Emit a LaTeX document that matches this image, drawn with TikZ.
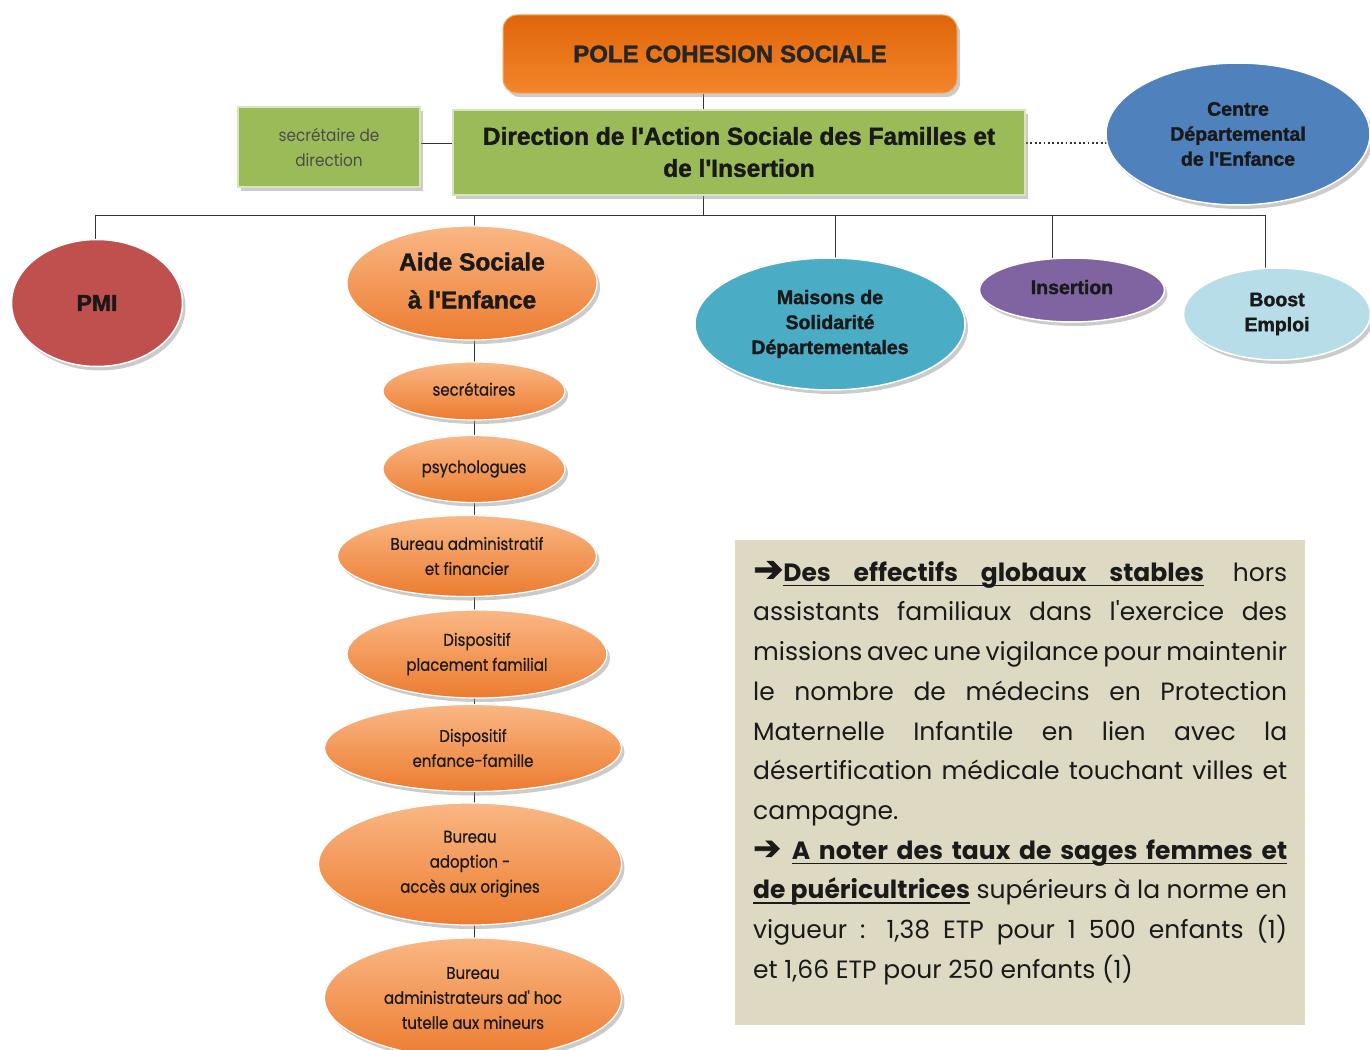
\documentclass[tikz,border=0pt]{standalone}
\usepackage{fontspec}
\setmainfont{Liberation Sans}
\newfontfamily\heavy[UprightFont={* Bold}, FakeBold=1.6]{Liberation Sans}
\newfontfamily\fut{Poppins}
\newfontfamily\futc[FakeStretch=0.88, FakeBold=0.6]{Poppins}
\newfontfamily\futl[FakeStretch=0.9]{Poppins}
\newfontfamily\dvsb[FakeBold=2.5]{DejaVu Sans}
\newcommand{\ap}{\char39\relax}
\newcommand{\ulw}[1]{\leavevmode\setbox0\hbox{#1}\rlap{\rule[-5pt]{\wd0}{1.6pt}}\box0}
\newcommand{\ulsp}{\leaders\hrule height -3.4pt depth 5pt\hskip\fontdimen2\font plus\fontdimen3\font minus\fontdimen4\font\relax}
\usetikzlibrary{shapes.geometric,shadows,backgrounds}
\definecolor{poleA}{HTML}{E0650A}
\definecolor{poleB}{HTML}{F3852A}
\definecolor{greenF}{HTML}{9BBB59}
\definecolor{greenE}{HTML}{D7E4BD}
\definecolor{blueF}{HTML}{4F81BD}
\definecolor{redF}{HTML}{C0504D}
\definecolor{aquaF}{HTML}{4BACC6}
\definecolor{purpF}{HTML}{8064A2}
\definecolor{lblF}{HTML}{B7DEE8}
\definecolor{orT}{HTML}{FAB784}
\definecolor{orM}{HTML}{F79646}
\definecolor{orB}{HTML}{EC7C30}
\definecolor{beigeF}{HTML}{DDD9C3}
\definecolor{txtC}{HTML}{1A1A1A}
\tikzset{
  shade/.style={drop shadow={shadow xshift=3pt, shadow yshift=-4pt, fill=black!45, opacity=0.45}},
  bigell/.style={ellipse, inner sep=0pt, align=center, draw=white, line width=1.5pt, shade,
    text=black!90, font=\heavy\fontsize{19.5}{25}\selectfont},
  orell/.style={ellipse, inner sep=0pt, align=center, draw=white, line width=1.2pt, shade,
    top color=orT, middle color=orM, bottom color=orB, text=txtC,
    font=\futc\fontsize{17}{25}\selectfont},
  gbox/.style={rectangle, inner sep=0pt, align=center, fill=greenF, draw=greenE, line width=2pt, shade},
  link/.style={draw=black!80, line width=0.9pt},
}
\begin{document}
\begin{tikzpicture}[x=1pt,y=-1pt]
\useasboundingbox (0,0) rectangle (1370,1049);

% top boxes
\node[rectangle, rounded corners=14pt, minimum width=454, minimum height=78, inner sep=0,
  top color=poleA, bottom color=poleB, draw=poleB!70!white, line width=1pt, shade,
  font=\heavy\fontsize{24}{25}\selectfont, text=black!85] (pole) at (730,54) {POLE COHESION SOCIALE};
\node[gbox, minimum width=572, minimum height=85, font=\heavy\fontsize{24.5}{32}\selectfont, text=black!90]
  (dir) at (739,152) {Direction de l\ap Action Sociale des Familles et\\de l\ap Insertion};
\node[gbox, minimum width=182, minimum height=80, font=\futl\fontsize{17}{25}\selectfont, text=black!70]
  (sec) at (329,147) {secrétaire de\\direction};
\node[bigell, fill=blueF, minimum width=264, minimum height=142] (cde) at (1238,134)
  {Centre\\Départemental\\de l\ap Enfance};

% second level
\node[bigell, fill=redF, minimum width=171, minimum height=127, font=\heavy\fontsize{23}{25}\selectfont] (pmi) at (97,303) {PMI};
\node[orell, minimum width=250, minimum height=114, font=\heavy\fontsize{24.5}{32}\selectfont] (ase) at (472,283) {\raisebox{2pt}{\begin{tabular}{@{}c@{}}Aide Sociale\\[6pt]à l\ap Enfance\end{tabular}}};
\node[bigell, fill=aquaF, minimum width=270, minimum height=132] (msd) at (830,324) {Maisons de\\Solidarité\\Départementales};
\node[bigell, fill=purpF, minimum width=185, minimum height=64] (ins) at (1072,290) {\raisebox{6pt}{Insertion}};
\node[bigell, fill=lblF, minimum width=187, minimum height=92] (boost) at (1277,314) {Boost\\Emploi};

% ASE chain
\node[orell, minimum width=182, minimum height=58] (s1) at (474,391) {\raisebox{4pt}{secrétaires}};
\node[orell, minimum width=182, minimum height=67] (s2) at (474,469) {\raisebox{3pt}{psychologues}};
\node[orell, minimum width=259, minimum height=81] (s3) at (467,556) {Bureau administratif\\et financier};
\node[orell, minimum width=260, minimum height=88] (s4) at (477,654) {Dispositif\\placement familial};
\node[orell, minimum width=297, minimum height=87] (s5) at (473,748) {Dispositif\\enfance-famille};
\node[orell, minimum width=303, minimum height=122] (s6) at (470,864) {Bureau\\adoption -\\accès aux origines};
\node[orell, minimum width=297, minimum height=120] (s7) at (473,998) {Bureau\\administrateurs ad\ap\ hoc\\tutelle aux mineurs};

% connectors
\coordinate (bus) at (703,215);
\coordinate (b1) at (95,215);
\coordinate (b2) at (474,215);
\coordinate (b3) at (835,215);
\coordinate (b4) at (1052,215);
\coordinate (b5) at (1265,215);
\coordinate (dl) at (0,143);
\coordinate (cx) at (474,0);
\begin{scope}[on background layer]
\draw[link] (pole.south -| bus) -- (dir.north -| bus);
\draw[link] (dir.south -| bus) -- (bus);
\draw[link] (b1) -- (b5);
\draw[link] (b1) -- (b1 |- pmi.center);
\draw[link] (b2) -- (b2 |- ase.center);
\draw[link] (b3) -- (b3 |- msd.center);
\draw[link] (b4) -- (b4 |- ins.center);
\draw[link] (b5) -- (b5 |- boost.center);
\draw[link] (sec.east |- dl) -- (dir.west |- dl);
\draw[link, line width=1.8pt, dash pattern=on 1.8pt off 2.6pt] (dir.east |- dl) -- (cde.center |- dl);
\draw[link] (ase.center -| cx) -- (s1.center -| cx);
\draw[link] (s1.center -| cx) -- (s2.center -| cx);
\draw[link] (s2.center -| cx) -- (s3.center -| cx);
\draw[link] (s3.center -| cx) -- (s4.center -| cx);
\draw[link] (s4.center -| cx) -- (s5.center -| cx);
\draw[link] (s5.center -| cx) -- (s6.center -| cx);
\draw[link] (s6.center -| cx) -- (s7.center -| cx);
\end{scope}

% text box
\node[rectangle, fill=beigeF, minimum width=570, minimum height=485, inner sep=0, anchor=north west] (box) at (735,540) {};
\node[anchor=north west, inner sep=0, text width=534pt, align=justify, text=txtC,
  font=\fut\fontsize{25}{39.7}\selectfont] (txt) at (753,561)
{\parindent=0pt
{\dvsb\fontsize{36}{39.7}\selectfont ➔}{\bfseries\ulw{Des}\ulsp\ulw{effectifs}\ulsp\ulw{globaux}\ulsp\ulw{stables}} hors\linebreak
assistants familiaux dans l'exercice des\linebreak
missions avec une vigilance pour maintenir\linebreak
le nombre de médecins en Protection\linebreak
Maternelle Infantile en lien avec la\linebreak
désertification médicale touchant villes et\linebreak
campagne.\par
{\dvsb\fontsize{33}{39.7}\selectfont ➔} {\bfseries\ulw{A}\ulsp\ulw{noter}\ulsp\ulw{des}\ulsp\ulw{taux}\ulsp\ulw{de}\ulsp\ulw{sages}\ulsp\ulw{femmes}\ulsp\ulw{et}}\linebreak
{\bfseries\ulw{de}\ulsp\ulw{puéricultrices}} supérieurs à la norme en\linebreak
vigueur : 1,38 ETP pour 1~500 enfants (1)\linebreak
et 1,66 ETP pour 250 enfants (1)\par};
\end{tikzpicture}
\end{document}
